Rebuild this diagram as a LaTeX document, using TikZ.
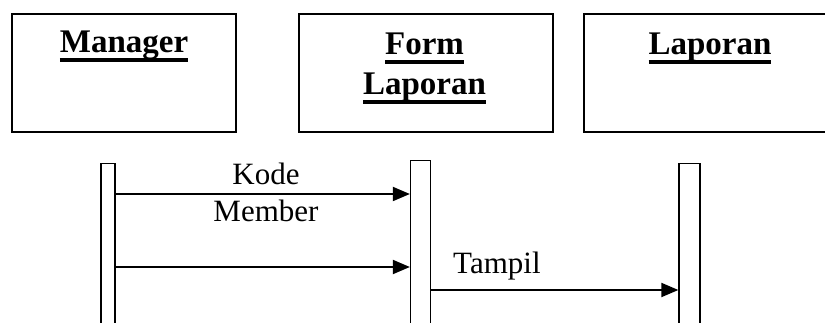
\documentclass[tikz,border=0pt]{standalone}
\usepackage{fontspec}
\setmainfont{Liberation Serif}
\usetikzlibrary{arrows.meta,positioning}

% thick underline drawn under a bold header
\newcommand\hdul[1]{\setbox0=\hbox{#1}\rlap{\vrule height -5.5pt depth 8.8pt width \wd0}\box0}

\tikzset{
  objbox/.style={draw, line width=2pt, anchor=north west, minimum height=118pt, inner sep=0pt},
  hdr/.style={font=\fontsize{33}{40}\selectfont\bfseries, align=center, anchor=base, inner sep=0pt},
  life/.style={draw, line width=1.3pt, anchor=north, minimum height=200pt, inner sep=0pt},
  msg/.style={line width=2pt, -{Triangle[length=17pt,width=14pt]}},
  lbl/.style={font=\fontsize{31}{37}\selectfont, align=center, anchor=base, inner sep=0pt}
}

\begin{document}
\begin{tikzpicture}[x=1pt, y=-1pt]
	\useasboundingbox (0,0) rectangle (825,323);
	\clip (0,0) rectangle (825,323);
	% objects
	\node[objbox, minimum width=224pt] (mgr) at (11,13) {};
	\node[objbox, minimum width=254pt] (form) at (298,13) {};
	\node[objbox, minimum width=400pt] (lap) at (583,13) {};
	% headers (base of a two-line node is its last line)
	\node[hdr] (mgrtxt) at (124,53) {\hdul{Manager}};
	\node[hdr] (formtxt) at (424.5,95) {\hdul{Form}\\\hdul{Laporan}};
	\node[hdr] (laptxt) at (710,55) {\hdul{Laporan}};
	% lifelines
	\node[life, minimum width=14pt] (ll1) at (108,163) {};
	\node[life, minimum width=20pt] (ll2) at (420.5,160) {};
	\node[life, minimum width=21pt] (ll3) at (689.5,163) {};
	% messages
	\draw[msg] (ll1.east |- 0,194) -- (ll2.west |- 0,194);
	\draw[msg] (ll1.east |- 0,267) -- (ll2.west |- 0,267);
	\draw[msg] (ll2.east |- 0,290) -- (ll3.west |- 0,290);
	\node[lbl] (kode) at (266,222) {Kode\\Member};
	\node[lbl, anchor=base west] (tampil) at (453,274) {Tampil};
\end{tikzpicture}
\end{document}
